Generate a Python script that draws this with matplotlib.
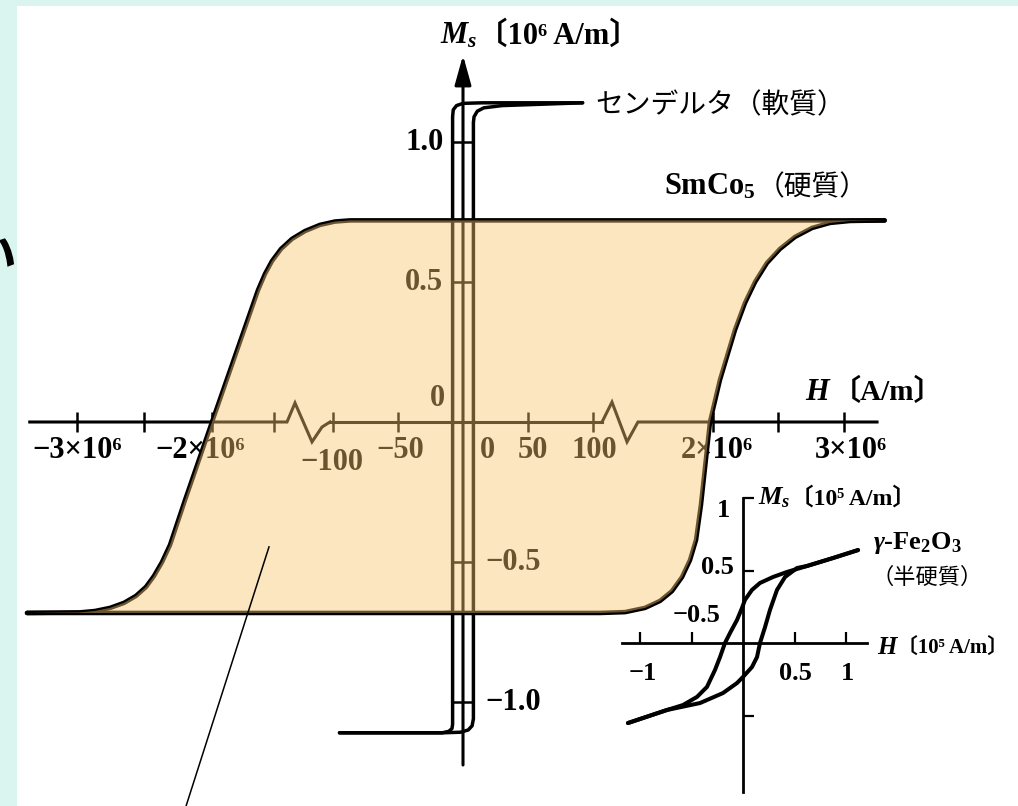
import numpy as np
import matplotlib
matplotlib.use('Agg')
import matplotlib.pyplot as plt
from matplotlib.patches import Rectangle

plt.rcParams['font.family'] = ['Liberation Serif', 'DejaVu Serif', 'Noto Sans CJK JP']
plt.rcParams['font.weight'] = 'bold'
plt.rcParams['mathtext.fontset'] = 'custom'
plt.rcParams['mathtext.rm'] = 'Liberation Serif:bold'
plt.rcParams['mathtext.it'] = 'Liberation Serif:italic:bold'
plt.rcParams['mathtext.bf'] = 'Liberation Serif:bold'
JP = ['Noto Sans CJK JP', 'DejaVu Sans']

# --- SmCo5 (hard): H in 1e6 A/m, Ms in 1e6 A/m
smco_down_H = [3.31, -0.896, -1.016, -1.136, -1.256, -1.36, -1.448, -1.52, -1.576, -1.632,
               -2.0, -2.2, -2.311, -2.37, -2.43, -2.489, -2.563, -2.652, -2.756, -2.867,
               -2.978, -3.37]
smco_down_M = [0.72, 0.72, 0.716, 0.704, 0.682, 0.654, 0.618, 0.575, 0.529, 0.471,
               0.0, -0.279, -0.439, -0.5, -0.55, -0.589, -0.621, -0.646, -0.664, -0.675,
               -0.68, -0.682]
smco_up_H = [-3.37, 1.10, 1.299, 1.458, 1.578, 1.673, 1.753, 1.817, 1.865, 1.904, 1.976,
             2.053, 2.168, 2.244, 2.321, 2.412, 2.511, 2.626, 2.756, 2.893, 3.046, 3.31]
smco_up_M = [-0.682, -0.682, -0.679, -0.664, -0.639, -0.604, -0.554, -0.493, -0.421, -0.296, 0.0,
             0.15, 0.329, 0.425, 0.5, 0.568, 0.618, 0.661, 0.693, 0.711, 0.718, 0.72]

# --- Sendelta (soft): H in A/m, Ms in 1e6 A/m
soft_down_H = [92, 15, 0, -5, -7.5, -8, -8, -8.5, -11, -16, -95]
soft_down_M = [1.14, 1.14, 1.138, 1.13, 1.115, 1.09, -1.08, -1.095, -1.105, -1.11, -1.11]
soft_up_H = [-95, -16, -2, 4, 7, 8, 8, 8.5, 11, 16, 30, 92]
soft_up_M = [-1.11, -1.11, -1.108, -1.10, -1.085, -1.06, 1.07, 1.09, 1.11, 1.122, 1.13, 1.14]

# --- gamma-Fe2O3 (semi-hard): H in 1e5 A/m, Ms in 1e5 A/m
fe_down_H = [1.117, 0.874, 0.621, 0.427, 0.291, 0.165, 0.087, 0.019, -0.01, -0.058, -0.126,
             -0.175, -0.223, -0.272, -0.35, -0.447, -0.583, -0.738, -1.117]
fe_down_M = [0.641, 0.586, 0.531, 0.49, 0.455, 0.414, 0.366, 0.297, 0.241, 0.159, 0.069,
             0.0, -0.097, -0.186, -0.303, -0.372, -0.428, -0.462, -0.552]
fe_up_H = [-1.117, -0.738, -0.417, -0.194, -0.058, 0.0, 0.087, 0.136, 0.165, 0.214, 0.262,
           0.33, 0.408, 0.524, 0.621, 0.874, 1.117]
fe_up_M = [-0.552, -0.462, -0.414, -0.345, -0.276, -0.234, -0.166, -0.097, 0.0, 0.11, 0.228,
           0.366, 0.455, 0.517, 0.531, 0.586, 0.641]

# tick values
outer_ticks = [-3, -2.5, -2, -1.5, 2, 2.5, 3]
inner_ticks = [-100, -50, 50, 100]
main_yticks = [1.0, 0.5, -0.5, -1.0]
fe_xticks = [-1, -0.5, 0.5, 1]
fe_yticks = [1, 0.5, -0.5]

W, H = 1018, 806
fig = plt.figure(figsize=(W / 100, H / 100), dpi=100)
fig.patch.set_facecolor('#daf4f0')
fig.add_artist(Rectangle((17 / W, 0), 1, 1 - 6 / H, transform=fig.transFigure,
                         facecolor='white', edgecolor='none', zorder=-1))

# broken H axis: outer part of the scale (1e6 A/m)
OUT_H = [-5, -2, 0, 2, 5]
OUT_U = [-193, 212, 462, 713, 1106]
fwd_out = lambda h: np.interp(h, OUT_H, OUT_U)
inv_out = lambda u: np.interp(u, OUT_U, OUT_H)
ylo, yhi = -(H - 422) / 280, 422 / 280

CURVE = dict(color='k', solid_joinstyle='round', solid_capstyle='round')


def bare(ax):
    ax.patch.set_visible(False)
    for sp in ax.spines.values():
        sp.set_visible(False)


def outer_axes():
    ax = fig.add_axes([0, 0, 1, 1])
    ax.set_xscale('function', functions=(fwd_out, inv_out))
    ax.set_xlim(float(inv_out(0)), float(inv_out(W)))
    ax.set_ylim(ylo, yhi)
    bare(ax)
    return ax


# ---------- inset: gamma-Fe2O3 ----------
axf = fig.add_axes([0, 0, 1, 1])
axf.set_xlim(-743 / 103, (W - 743) / 103)
axf.set_ylim(-(H - 643) / 145, 643 / 145)
bare(axf)
axf.spines['bottom'].set_position(('data', 0))
axf.spines['left'].set_position(('data', 0))
axf.set_xticks(fe_xticks)
axf.set_yticks(fe_yticks)
axf.tick_params(direction='in', length=8, width=1.6, color='k',
                labelbottom=False, labelleft=False)
axf.plot([-1.175, 1.204], [0, 0], color='k', lw=2.0)
axf.plot([0, 0], [-1.028, 1.0], color='k', lw=2.0)
axf.plot(fe_down_H, fe_down_M, lw=2.9, **CURVE)
axf.plot(fe_up_H, fe_up_M, lw=2.9, **CURVE)
fs_in = 19
for x, y, s in [(-0.194, 0.917, '1'), (-0.252, 0.524, '0.5'), (-0.447, 0.193, '−0.5'),
                (-0.971, -0.207, '−1'), (0.505, -0.207, '0.5'), (1.01, -0.207, '1')]:
    axf.text(x, y, s, ha='center', va='center', fontsize=fs_in)
t = axf.text(0.146, 1.0, r'$M_s$', ha='left', va='center', fontsize=fs_in)
axf.annotate('〔10⁵ A/m〕', xy=(1, 0.5), xycoords=t, ha='left', va='center', fontsize=17)
axf.text(1.262, 0.69, r'$\gamma$-Fe$_{\mathrm{2}}$O$_{\mathrm{3}}$', ha='left', va='center', fontsize=fs_in)
axf.text(1.25, 0.455, '（半硬質）', ha='left', va='center', fontsize=16, family=JP, weight='normal')
t = axf.text(1.30, -0.03, r'$H$', ha='left', va='center', fontsize=18)
axf.annotate('〔10⁵ A/m〕', xy=(0.9, 0.5), xycoords=t, ha='left', va='center', fontsize=15)

# ---------- main: outer H scale, SmCo5 ----------
axo = outer_axes()
axo.spines['bottom'].set_position(('data', 0))
axo.set_xticks(outer_ticks)
axo.set_yticks([])
axo.tick_params(axis='x', direction='inout', length=15, width=1.8, color='k', labelbottom=False)
axo.plot([-3.35, -1.40, -1.336, -1.20, -1.12, -1.056], [0, 0, 0.068, -0.071, -0.018, 0],
         color='k', lw=2.2, solid_joinstyle='miter')
axo.plot([1.116, 1.195, 1.315, 1.402, 3.252], [0, 0.071, -0.071, 0, 0],
         color='k', lw=2.2, solid_joinstyle='miter')
axo.plot(smco_down_H, smco_down_M, lw=3.3, **CURVE)
axo.plot(smco_up_H, smco_up_M, lw=3.3, **CURVE)
fs = 22
for x, s in [(-3.0, '−3×10⁶'), (-2.09, '−2×10⁶'), (2.03, '2×10⁶'), (3.05, '3×10⁶')]:
    axo.text(x, -0.1, s, ha='center', va='center', fontsize=fs)

# ---------- main: inner H scale (A/m), Sendelta ----------
axi = fig.add_axes([0, 0, 1, 1])
axi.set_xlim(-463 / 1.3, (W - 463) / 1.3)
axi.set_ylim(ylo, yhi)
bare(axi)
axi.spines['bottom'].set_position(('data', 0))
axi.spines['left'].set_position(('data', 0))
axi.set_xticks(inner_ticks)
axi.set_yticks(main_yticks)
axi.tick_params(direction='inout', length=15, width=1.8, color='k',
                labelbottom=False, labelleft=False)
axi.plot([-102.3, 106.9], [0, 0], color='k', lw=2.2)
axi.annotate('', xy=(0, 1.31), xytext=(0, -1.225),
             arrowprops=dict(arrowstyle='-|>,head_length=0.9,head_width=0.25', lw=2.2,
                             color='k', shrinkA=0, shrinkB=0, mutation_scale=20))
axi.plot(soft_down_H, soft_down_M, lw=2.5, **CURVE)
axi.plot(soft_up_H, soft_up_M, lw=2.5, **CURVE)

axi.text(-15, 1.0, '1.0', ha='right', va='center', fontsize=fs)
axi.text(-15, 0.5, '0.5', ha='right', va='center', fontsize=fs)
axi.text(-20, 0.085, '0', ha='center', va='center', fontsize=fs)
axi.text(19, -0.1, '0', ha='center', va='center', fontsize=fs)
axi.text(-48, -0.1, '−50', ha='center', va='center', fontsize=fs)
axi.text(-101, -0.143, '−100', ha='center', va='center', fontsize=fs)
axi.text(54, -0.1, '50', ha='center', va='center', fontsize=fs)
axi.text(101, -0.1, '100', ha='center', va='center', fontsize=fs)
axi.text(17, -0.5, '−0.5', ha='left', va='center', fontsize=fs)
axi.text(17, -1.0, '−1.0', ha='left', va='center', fontsize=fs)

t = axi.text(-17.7, 1.38, r'$M_s$', ha='left', va='center', fontsize=fs)
axi.annotate('〔10⁶ A/m〕', xy=(1, 0.5), xycoords=t, ha='left', va='center', fontsize=22)
t = axi.text(263, 0.107, r'$H$', ha='left', va='center', fontsize=fs)
axi.annotate('〔A/m〕', xy=(1, 0.5), xycoords=t, ha='left', va='center', fontsize=21)
axi.text(101.5, 1.132, 'センデルタ（軟質）', ha='left', va='center', fontsize=20,
         family=JP, weight='normal')
t = axi.text(155, 0.839, r'SmCo$_{\mathrm{5}}$', ha='left', va='center', fontsize=fs)
axi.annotate('（硬質）', xy=(1, 0.5), xycoords=t, ha='left', va='center', fontsize=20,
             family=JP, weight='normal')

# ---------- highlight of the hard-magnet loop area ----------
axt = outer_axes()
axt.set_xticks([])
axt.set_yticks([])
axt.fill(smco_down_H + smco_up_H, smco_down_M + smco_up_M, color='#f8c56f', alpha=0.43,
         lw=0, zorder=1)
axt.plot([-1.544, -2.225], [-0.446, -1.421], color='k', lw=1.1, zorder=2)

fig.text(17 / W, 1 - 258 / H, 'い', ha='right', va='center', fontsize=36,
         family=JP, weight='bold', color='k')

fig.savefig('out.png', dpi=100, facecolor=fig.get_facecolor())
